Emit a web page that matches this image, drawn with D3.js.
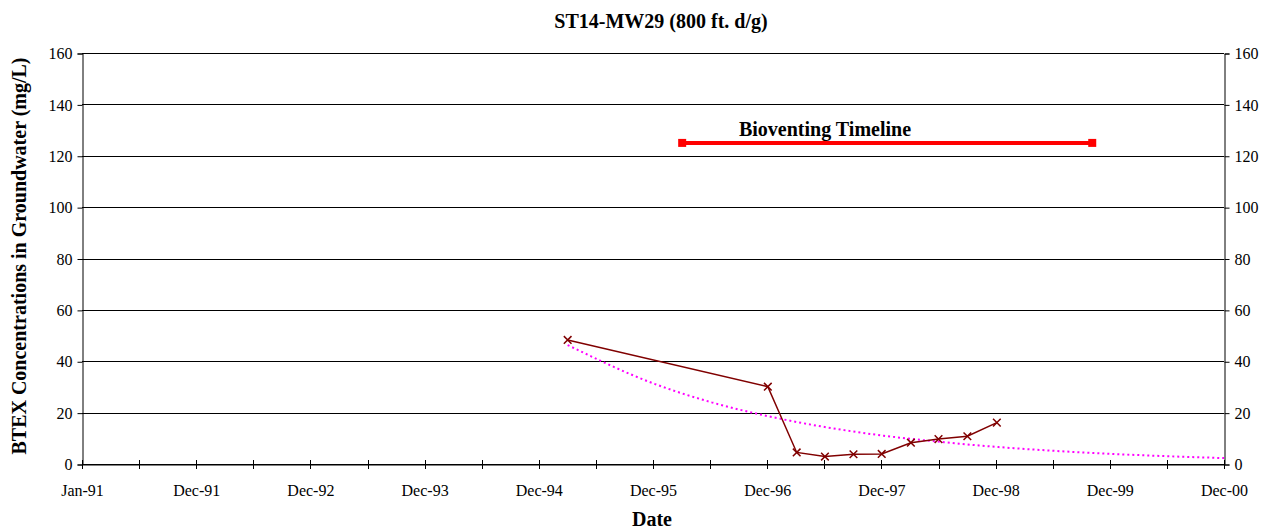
<!DOCTYPE html>
<html>
<head>
<meta charset="utf-8">
<script src="https://cdn.jsdelivr.net/npm/d3@7"></script>
<style>
  body { margin: 0; background: #fff; }
  text { font-family: "Liberation Serif", "Times New Roman", serif; }
</style>
</head>
<body>
<svg id="chart" width="1268" height="531"></svg>
<script>
// measured BTEX samples
let sampleDates = ["1995-03-29", "1996-12-26", "1997-03-28", "1997-06-26", "1997-09-25",
  "1997-12-24", "1998-03-27", "1998-06-23", "1998-09-23", "1998-12-26"];
let sampleValues = [48.3, 30.1, 4.5, 2.9, 3.8, 3.9, 8.3, 9.7, 10.8, 16.1];

// trend curve
let trendDates = ["1995-03-29", "1995-12-31", "1996-06-30", "1996-12-31", "1997-06-30",
  "1997-12-31", "1998-06-30", "1998-12-31", "1999-06-30", "1999-12-31", "2000-06-30", "2000-12-19"];
let trendValues = [46.3, 31.2, 24.0, 18.5, 14.3, 11.0, 8.6, 6.6, 5.1, 3.9, 3.0, 2.3];

// bioventing period
let bioventDates = ["1996-03-28", "1999-10-26"];
let bioventValues = [125, 125];

let yTicks = [0, 20, 40, 60, 80, 100, 120, 140, 160];

let plotLeft = 82, plotRight = 1224, plotTop = 53, plotBottom = 464;

let svg = d3.select("#chart");
let parse = d3.utcParse("%Y-%m-%d");

let startDate = Date.UTC(1991, 0, 1);
let xScale = d3.scaleUtc()
  .domain([new Date(startDate), d3.utcDay.offset(new Date(startDate), 3640)])
  .range([plotLeft, plotRight]);

let yScale = d3.scaleLinear()
  .domain([0, 160])
  .range([plotBottom, plotTop]);

// gridlines
svg.append("g")
  .selectAll("line")
  .data(yTicks)
  .join("line")
  .attr("x1", plotLeft)
  .attr("x2", plotRight)
  .attr("y1", d => Math.round(yScale(d)) + 0.5)
  .attr("y2", d => Math.round(yScale(d)) + 0.5)
  .style("stroke", "#000")
  .style("stroke-width", 1);

// left axis
let leftAxis = d3.axisLeft(yScale).tickValues(yTicks).tickSize(5).tickPadding(5);
svg.append("g")
  .attr("transform", "translate(" + (plotLeft + 0.5) + ",0.5)")
  .call(leftAxis)
  .call(g => g.selectAll("text").style("font-size", "16px").style("font-family", "Liberation Serif"));

// right axis
let rightAxis = d3.axisRight(yScale).tickValues(yTicks).tickSize(5).tickPadding(5);
svg.append("g")
  .attr("transform", "translate(" + (plotRight + 0.5) + ",0.5)")
  .call(rightAxis)
  .call(g => g.selectAll("text").style("font-size", "16px").style("font-family", "Liberation Serif"));

// bottom axis: labels every 364 days, ticks every 182
let majorTicks = d3.range(0, 11).map(i => d3.utcDay.offset(new Date(startDate), i * 364));
let minorTicks = d3.range(0, 21).map(i => d3.utcDay.offset(new Date(startDate), i * 182));

let xAxis = d3.axisBottom(xScale)
  .tickValues(majorTicks)
  .tickFormat(d3.utcFormat("%b-%y"))
  .tickSize(0)
  .tickPadding(20);
svg.append("g")
  .attr("transform", "translate(0," + (plotBottom + 0.5) + ")")
  .call(xAxis)
  .call(g => g.selectAll("text").style("font-size", "16px").style("font-family", "Liberation Serif"));

svg.append("g")
  .selectAll("line")
  .data(minorTicks)
  .join("line")
  .attr("x1", d => Math.round(xScale(d)) + 0.5)
  .attr("x2", d => Math.round(xScale(d)) + 0.5)
  .attr("y1", plotBottom - 4)
  .attr("y2", plotBottom + 5)
  .style("stroke", "#000");

// trend line (dotted magenta)
let trend = trendDates.map((d, i) => ({ date: parse(d), value: trendValues[i] }));
svg.append("path")
  .datum(trend)
  .attr("d", d3.line()
    .x(d => xScale(d.date))
    .y(d => yScale(d.value))
    .curve(d3.curveMonotoneX))
  .style("fill", "none")
  .style("stroke", "#ff00ff")
  .style("stroke-width", 2)
  .style("stroke-dasharray", "2,3");

// samples
let samples = sampleDates.map((d, i) => ({ date: parse(d), value: sampleValues[i] }));
svg.append("path")
  .datum(samples)
  .attr("d", d3.line()
    .x(d => xScale(d.date))
    .y(d => yScale(d.value)))
  .style("fill", "none")
  .style("stroke", "#800000")
  .style("stroke-width", 1.5);

let cross = d3.symbol().type(d3.symbolX).size(40);
svg.selectAll(".sample")
  .data(samples)
  .join("path")
  .attr("class", "sample")
  .attr("d", cross)
  .attr("transform", d => "translate(" + xScale(d.date) + "," + yScale(d.value) + ")")
  .style("fill", "none")
  .style("stroke", "#800000")
  .style("stroke-width", 1.5);

// bioventing timeline
let biovent = bioventDates.map((d, i) => ({ date: parse(d), value: bioventValues[i] }));
svg.append("path")
  .datum(biovent)
  .attr("d", d3.line()
    .x(d => xScale(d.date))
    .y(d => yScale(d.value)))
  .style("fill", "none")
  .style("stroke", "#ff0000")
  .style("stroke-width", 4);

svg.selectAll(".bioMarker")
  .data(biovent)
  .join("rect")
  .attr("class", "bioMarker")
  .attr("x", d => xScale(d.date) - 4)
  .attr("y", d => yScale(d.value) - 4)
  .attr("width", 8)
  .attr("height", 8)
  .style("fill", "#ff0000");

svg.append("text")
  .attr("x", 825)
  .attr("y", 136)
  .text("Bioventing Timeline")
  .style("text-anchor", "middle")
  .style("font-weight", "bold")
  .style("font-size", "20px");

// titles
svg.append("text")
  .attr("x", 661)
  .attr("y", 28)
  .text("ST14-MW29 (800 ft. d/g)")
  .style("text-anchor", "middle")
  .style("font-weight", "bold")
  .style("font-size", "20px");

svg.append("text")
  .attr("x", 652)
  .attr("y", 526)
  .text("Date")
  .style("text-anchor", "middle")
  .style("font-weight", "bold")
  .style("font-size", "20px");

svg.append("text")
  .attr("transform", "translate(26,256) rotate(-90)")
  .text("BTEX Concentrations in Groundwater (mg/L)")
  .style("text-anchor", "middle")
  .style("font-weight", "bold")
  .style("font-size", "20px");
</script>
</body>
</html>
